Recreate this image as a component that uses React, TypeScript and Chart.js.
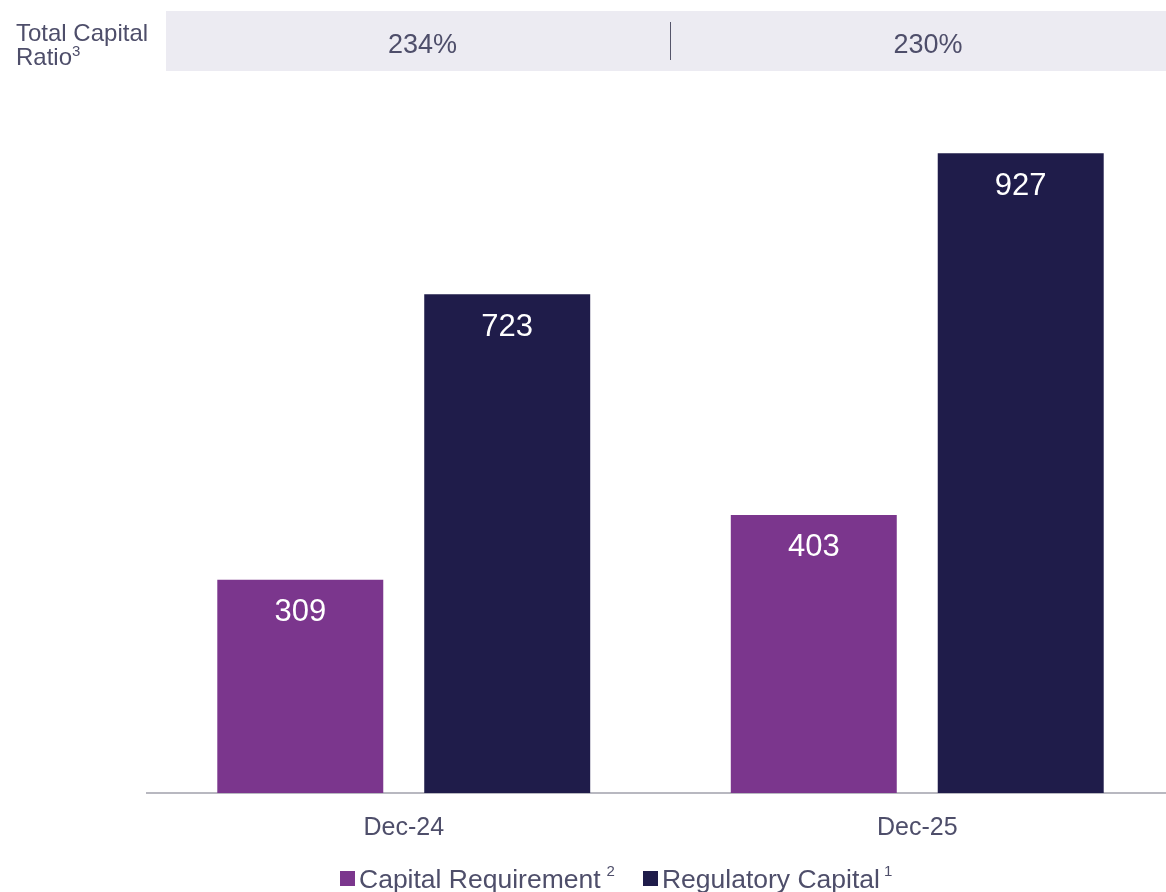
import React, { useEffect, useRef } from "react";
import { Chart, registerables } from "chart.js";

Chart.register(...registerables);

const categories = ["Dec-24", "Dec-25"];
const capitalRequirement = [309, 403];
const regulatoryCapital = [723, 927];
const totalCapitalRatio = ["234%", "230%"];

const FONT = '"Liberation Sans", Arial, sans-serif';
const TEXT = "#4e4e6a";
const PURPLE = "#7b368d";
const NAVY = "#1f1c4a";

const valueLabels = {
  id: "valueLabels",
  afterDatasetsDraw(chart: any) {
    const ctx = chart.ctx;
    ctx.save();
    ctx.fillStyle = "#ffffff";
    ctx.font = `31px ${FONT}`;
    ctx.textAlign = "center";
    ctx.textBaseline = "middle";
    chart.data.datasets.forEach((ds: any, di: number) => {
      const meta = chart.getDatasetMeta(di);
      meta.data.forEach((bar: any, i: number) => {
        ctx.fillText(String(ds.data[i]), bar.x, bar.y + 33);
      });
    });
    ctx.restore();
  },
};

export default function App() {
  const ref = useRef<HTMLCanvasElement>(null);

  useEffect(() => {
    document.body.style.margin = "0";
    document.body.style.overflow = "hidden";
    if (!ref.current) return;
    const chart = new Chart(ref.current, {
      type: "bar",
      data: {
        labels: categories,
        datasets: [
          {
            label: "Capital Requirement",
            data: capitalRequirement,
            backgroundColor: PURPLE,
            categoryPercentage: 0.806,
            barPercentage: 0.802,
          },
          {
            label: "Regulatory Capital",
            data: regulatoryCapital,
            backgroundColor: NAVY,
            categoryPercentage: 0.806,
            barPercentage: 0.802,
          },
        ],
      },
      options: {
        responsive: false,
        animation: false,
        devicePixelRatio: 1,
        layout: { padding: { left: 147, right: 6, top: 103, bottom: 0 } },
        plugins: {
          legend: { display: false },
          tooltip: { enabled: false },
        },
        scales: {
          x: {
            grid: { display: false, drawTicks: false },
            border: { display: true, color: "#b8b8c0", width: 2 },
            ticks: {
              color: TEXT,
              font: { family: FONT, size: 25 },
              padding: 20,
            },
            afterFit: (scale: any) => {
              scale.height = 99;
            },
          },
          y: {
            display: false,
            min: 0,
            max: 1000,
          },
        },
      },
      plugins: [valueLabels],
    });
    return () => chart.destroy();
  }, []);

  return (
    <div
      style={{
        position: "relative",
        width: 1166,
        height: 892,
        overflow: "hidden",
        fontFamily: FONT,
        color: TEXT,
        background: "#ffffff",
      }}
    >
      <canvas
        ref={ref}
        width={1180}
        height={892}
        style={{ position: "absolute", left: 0, top: 0, width: 1180, height: 892 }}
      />
      <div
        style={{
          position: "absolute",
          left: 16,
          top: 21,
          fontSize: 24,
          lineHeight: "24px",
          whiteSpace: "nowrap",
        }}
      >
        Total Capital
        <br />
        Ratio
        <span style={{ fontSize: 15, position: "relative", top: -9 }}>3</span>
      </div>
      <div
        style={{
          position: "absolute",
          left: 166,
          top: 11,
          width: 1000,
          height: 60,
          background: "#ecebf2",
        }}
      />
      <div
        style={{
          position: "absolute",
          left: 670,
          top: 22,
          width: 1,
          height: 38,
          background: "#55556a",
        }}
      />
      {totalCapitalRatio.map((r, i) => (
        <div
          key={r + i}
          style={{
            position: "absolute",
            left: (i === 0 ? 422.5 : 928) - 100,
            top: 14,
            width: 200,
            height: 60,
            lineHeight: "60px",
            fontSize: 27,
            textAlign: "center",
          }}
        >
          {r}
        </div>
      ))}
      <div
        style={{
          position: "absolute",
          left: 340,
          top: 864,
          fontSize: 26.5,
          lineHeight: "30px",
          whiteSpace: "nowrap",
        }}
      >
        <span
          style={{
            display: "inline-block",
            width: 15,
            height: 15,
            background: PURPLE,
            verticalAlign: "2px",
            marginRight: 4,
          }}
        />
        Capital Requirement
        <span style={{ fontSize: 15, position: "relative", top: -12, marginLeft: 6 }}>2</span>
        <span
          style={{
            display: "inline-block",
            width: 15,
            height: 15,
            background: NAVY,
            verticalAlign: "2px",
            marginLeft: 28,
            marginRight: 4,
          }}
        />
        Regulatory Capital
        <span style={{ fontSize: 15, position: "relative", top: -12, marginLeft: 4 }}>1</span>
      </div>
    </div>
  );
}
